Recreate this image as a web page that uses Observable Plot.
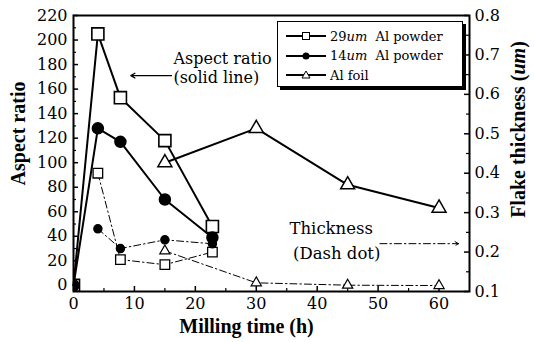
<!DOCTYPE html>
<html><head><meta charset="utf-8">
<script src="https://cdn.jsdelivr.net/npm/d3@7"></script>
<script src="https://cdn.jsdelivr.net/npm/@observablehq/plot@0.6"></script>
<style>
body{margin:0;background:#fff;}
#wrap{position:relative;width:534px;height:342px;}
#legend{position:absolute;left:277px;top:21px;width:184px;height:64px;border:1px solid #000;background:#fff;box-shadow:3px 3px 0 #000;font-family:"DejaVu Serif",serif;font-size:13px;color:#000;}
.row{position:absolute;left:8px;height:18px;display:flex;align-items:center;white-space:pre;}
.row svg{margin-right:4px;}
</style>
</head><body><div id="wrap"></div>
<script>
// ---- data ----
const seriesNames = ["29um  Al powder", "14um  Al powder", "Al foil"];
const time29 = [0, 4, 7.7, 15, 22.8];
const aspect29 = [0, 205, 153, 118, 48];
const time14 = [0, 4, 7.7, 15, 22.8];
const aspect14 = [0, 128, 117, 70, 39];
const timeFoil = [15, 30, 45, 60];
const aspectFoil = [100, 128, 82, 63];
const thickTime = [4, 7.7, 15, 22.8];
const thick29 = [0.40, 0.181, 0.168, 0.200];
const thick14 = [0.259, 0.209, 0.231, 0.221];
const thickTimeFoil = [15, 30, 45, 60];
const thickFoil = [0.203, 0.122, 0.116, 0.115];
const xTicks = [0, 10, 20, 30, 40, 50, 60];
const xMinor = [5, 15, 25, 35, 45, 55];
const yTicks = [0, 20, 40, 60, 80, 100, 120, 140, 160, 180, 200, 220];
const yMinor = [10, 30, 50, 70, 90, 110, 130, 150, 170, 190, 210];
const tTicks = [0.1, 0.2, 0.3, 0.4, 0.5, 0.6, 0.7, 0.8];
const tMinor = [0.15, 0.25, 0.35, 0.45, 0.55, 0.65, 0.75];

// secondary axis: thickness (um) -> aspect-ratio units
const yDom = [-5, 220], tDom = [0.1, 0.8];
const toLeft = t => yDom[0] + (t - tDom[0]) / (tDom[1] - tDom[0]) * (yDom[1] - yDom[0]);
const fromLeft = v => tDom[0] + (v - yDom[0]) / (yDom[1] - yDom[0]) * (tDom[1] - tDom[0]);

const zip = (xs, ys) => xs.map((x, i) => ({x, y: ys[i]}));
const s29 = zip(time29, aspect29), s14 = zip(time14, aspect14), sF = zip(timeFoil, aspectFoil);
const d29 = zip(thickTime, thick29.map(toLeft)), d14 = zip(thickTime, thick14.map(toLeft)), dF = zip(thickTimeFoil, thickFoil.map(toLeft));

const W = 534, H = 342, mL = 73, mR = 65, mT = 15, mB = 51;
const pw = W - mL - mR, ph = H - mT - mB;
const dash = "7,3,1.5,3";
const titleFont = "Liberation Serif, serif";

const plot = Plot.plot({
  width: W, height: H,
  marginLeft: mL, marginRight: mR, marginTop: mT, marginBottom: mB,
  style: {fontFamily: "DejaVu Serif, serif", fontSize: "16px", color: "#000", background: "#fff"},
  x: {domain: [0, 65]},
  y: {domain: yDom},
  marks: [
    // inward ticks
    Plot.ruleY(yTicks, {insetRight: pw - 5, strokeWidth: 1.5}),
    Plot.ruleY(yMinor, {insetRight: pw - 3, strokeWidth: 1.2}),
    Plot.ruleY(tTicks.map(toLeft), {insetLeft: pw - 5, strokeWidth: 1.5}),
    Plot.ruleY(tMinor.map(toLeft), {insetLeft: pw - 3, strokeWidth: 1.2}),
    Plot.ruleX(xTicks, {insetTop: ph - 5, strokeWidth: 1.5}),
    Plot.ruleX(xMinor, {insetTop: ph - 3, strokeWidth: 1.2}),
    Plot.axisY(yTicks, {tickSize: 0, tickPadding: 6, label: null}),
    Plot.axisY(tTicks.map(toLeft), {anchor: "right", tickSize: 0, tickPadding: 5, label: null, tickFormat: v => fromLeft(v).toFixed(1)}),
    Plot.axisX(xTicks, {tickSize: 0, tickPadding: 6, label: null}),
    // dash-dot thickness lines
    Plot.line(d29, {x: "x", y: "y", stroke: "#000", strokeWidth: 1, strokeDasharray: dash}),
    Plot.line(d14, {x: "x", y: "y", stroke: "#000", strokeWidth: 1, strokeDasharray: dash}),
    Plot.line(dF, {x: "x", y: "y", stroke: "#000", strokeWidth: 1, strokeDasharray: dash}),
    // solid aspect lines
    Plot.line(s29, {x: "x", y: "y", stroke: "#000", strokeWidth: 2}),
    Plot.line(s14, {x: "x", y: "y", stroke: "#000", strokeWidth: 2}),
    Plot.line(sF, {x: "x", y: "y", stroke: "#000", strokeWidth: 2}),
    // markers
    Plot.dot(d29, {x: "x", y: "y", symbol: "square", r: 5.4, fill: "#fff", stroke: "#000", strokeWidth: 1.3}),
    Plot.dot(d14, {x: "x", y: "y", symbol: "circle", r: 4, fill: "#000", stroke: "#000"}),
    Plot.dot(dF, {x: "x", y: "y", symbol: "triangle", r: 3.8, fill: "#fff", stroke: "#000", strokeWidth: 1.2}),
    Plot.dot(s29, {x: "x", y: "y", symbol: "square", r: 6.8, fill: "#fff", stroke: "#000", strokeWidth: 1.6, clip: true}),
    Plot.dot(s14, {x: "x", y: "y", symbol: "circle", r: 5.5, fill: "#000", stroke: "#000", clip: true}),
    Plot.dot(sF, {x: "x", y: "y", symbol: "triangle", r: 5.2, fill: "#fff", stroke: "#000", strokeWidth: 1.5}),
    Plot.frame({stroke: "#000", strokeWidth: 2}),
    // annotations
    Plot.text(["Aspect ratio\n(solid line)"], {x: 16.4, y: 178, textAnchor: "start", fontSize: 16, lineHeight: 1.2}),
    Plot.arrow([0], {x1: 16.1, x2: 9.4, y1: 171, y2: 171, stroke: "#000", strokeWidth: 1.2, headLength: 6}),
    Plot.text(["Thickness"], {x: 42.3, y: 46, textAnchor: "middle", fontSize: 16.5}),
    Plot.text(["(Dash dot)"], {x: 43.2, y: 26, textAnchor: "middle", fontSize: 16.5}),
    Plot.arrow([0], {x1: 50.3, x2: 63.2, y1: 34, y2: 34, stroke: "#000", strokeWidth: 1, strokeDasharray: dash, headLength: 6}),
    // axis titles
    Plot.text(["Aspect ratio"], {frameAnchor: "left", textAnchor: "middle", dx: -55, dy: -20, rotate: -90, fontWeight: "bold", fontSize: 20, fontFamily: titleFont}),
    Plot.text(["Flake thickness (um)"], {frameAnchor: "right", textAnchor: "middle", dx: 49, dy: -24, rotate: -90, fontWeight: "bold", fontSize: 20, fontFamily: titleFont, letterSpacing: 1}),
    Plot.text(["Milling time (h)"], {frameAnchor: "bottom", textAnchor: "middle", dx: -25, dy: 41, fontWeight: "bold", fontSize: 20, fontFamily: titleFont, letterSpacing: 1.2})
  ]
});
d3.select(plot).selectAll("text").each(function() {
  if (this.textContent === "Flake thickness (um)") this.innerHTML = 'Flake thickness (<tspan font-style="italic">um</tspan>)';
});
const wrap = document.getElementById("wrap");
wrap.appendChild(plot);

// legend
const sym = {
  square: '<rect x="16.5" y="5.5" width="7" height="7" fill="#fff" stroke="#000" stroke-width="1"/>',
  circle: '<circle cx="20" cy="9" r="3.5" fill="#000"/>',
  triangle: '<path d="M20,5 L24,12 L16,12 Z" fill="#fff" stroke="#000" stroke-width="1"/>'
};
const syms = ["square", "circle", "triangle"];
const leg = document.createElement("div");
leg.id = "legend";
seriesNames.forEach((name, i) => {
  const row = document.createElement("div");
  row.className = "row";
  row.style.top = (5 + i * 19.5) + "px";
  const html = name.replace("um", "<i>um</i>");
  row.innerHTML = `<svg width="40" height="18"><line x1="0" x2="40" y1="9" y2="9" stroke="#000" stroke-width="2"/>${sym[syms[i]]}</svg><span>${html}</span>`;
  leg.appendChild(row);
});
wrap.appendChild(leg);
</script>
</body></html>
